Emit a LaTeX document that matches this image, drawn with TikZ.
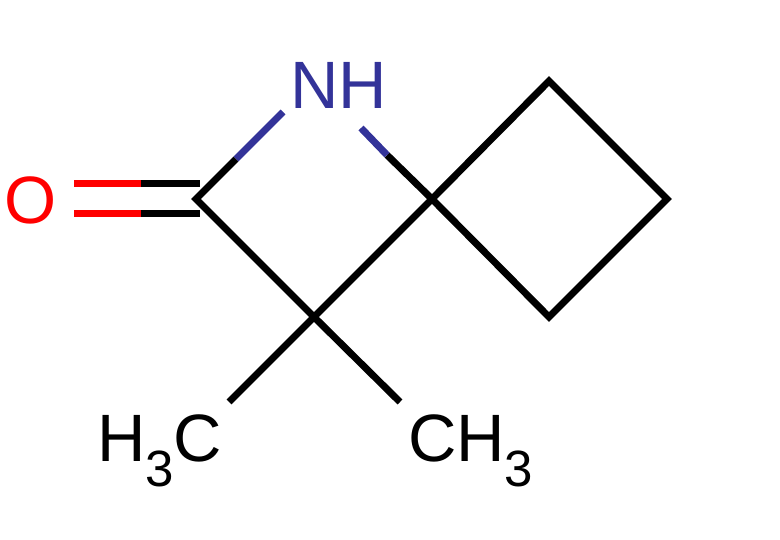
\documentclass[tikz,border=0pt]{standalone}
\usepackage{fontspec}
\setmainfont{Liberation Sans}
\definecolor{nblue}{RGB}{51,51,153}
\definecolor{ored}{RGB}{255,0,0}
\newcommand{\subd}[1]{\raisebox{-25pt}{\fontsize{51}{51}\selectfont #1}}
\tikzset{
  bond/.style={line width=7pt,line cap=butt,line join=miter,black},
  nbond/.style={bond,nblue},
  obond/.style={bond,ored},
  atom/.style={anchor=base west,inner sep=0pt,outer sep=0pt,font=\fontsize{67}{67}\selectfont}
}
\begin{document}
\begin{tikzpicture}[x=1pt,y=-1pt]
\useasboundingbox (0,0) rectangle (780,540);
% skeleton atoms
\coordinate (c1) at (196,199);
\coordinate (sp) at (432,199);
\coordinate (c3) at (314,317);
\coordinate (r1) at (549,81);
\coordinate (r2) at (667,199);
\coordinate (r3) at (549,317);
% bond ends
\coordinate (nl) at (283,112);
\coordinate (nlm) at (236,159);
\coordinate (nr) at (361,128);
\coordinate (nrm) at (387,155);
\coordinate (me1) at (229,402);
\coordinate (me2) at (400,402);
\coordinate (oa1) at (74,184);
\coordinate (oam) at (141,184);
\coordinate (oa2) at (200,184);
\coordinate (ob1) at (74,214);
\coordinate (obm) at (141,214);
\coordinate (ob2) at (200,214);
% labels
\node[atom,text=nblue] (nh) at (290,109) {NH};
\node[atom,text=ored] (ox) at (4.5,224) {O};
\node[atom] (m1) at (97,461) {H\subd{3}C};
\node[atom] (m2) at (408,461) {CH\subd{3}};
% bonds
\draw[bond] (sp) -- (r1) -- (r2) -- (r3) -- cycle;
\draw[bond] (nlm) -- (c1) -- (c3) -- (sp) -- (nrm);
\draw[bond] (me1) -- (c3) -- (me2);
\draw[nbond] (nlm) -- (nl);
\draw[nbond] (nrm) -- (nr);
\draw[bond] (oam) -- (oa2);
\draw[bond] (obm) -- (ob2);
\draw[obond] (oa1) -- (oam);
\draw[obond] (ob1) -- (obm);
\end{tikzpicture}
\end{document}
